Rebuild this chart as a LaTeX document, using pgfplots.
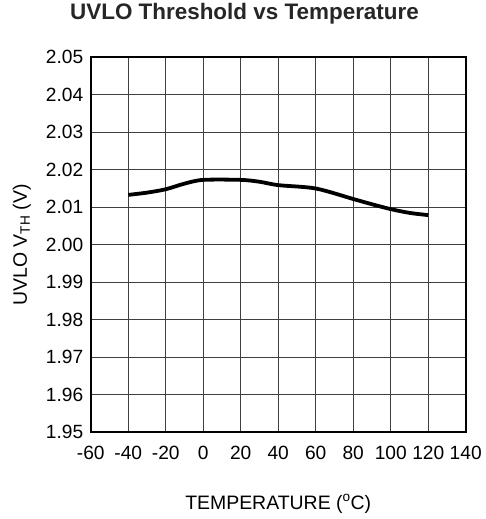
\documentclass[border=0pt]{standalone}
\usepackage{pgfplots}
\pgfplotsset{compat=1.18}
\usepackage{fontspec}
\setmainfont{Liberation Sans}
\begin{document}
\begin{tikzpicture}
\begin{axis}[
  scale only axis,
  width=376pt, height=376pt,
  xmin=-60, xmax=140, ymin=1.95, ymax=2.05,
  xtick={-60,-40,...,140},
  ytick={1.95,1.96,...,2.05},
  yticklabel style={/pgf/number format/fixed,/pgf/number format/fixed zerofill,/pgf/number format/precision=2, xshift=-4pt},
  /pgf/number format/assume math mode=true,
  tick label style={font=\fontsize{19.2}{23}\selectfont},
  xticklabel style={yshift=-10pt},
  major tick length=0pt,
  grid=major,
  grid style={line width=1.2pt, color=black!75},
  axis line style={line width=2pt},
  title={\textbf{UVLO Threshold vs Temperature}},
  title style={font=\fontsize{22.5}{26}\selectfont, text=black!85, at={(axis description cs:0.41,1.100)}, anchor=center},
  xlabel={TEMPERATURE (\textsuperscript{o}C)},
  ylabel={UVLO V\textsubscript{TH} (V)},
  label style={font=\fontsize{19.5}{23}\selectfont},
  xlabel style={at={(axis description cs:0.5,-0.1915)}, anchor=center},
  ylabel style={at={(axis description cs:-0.184,0.5)}, anchor=center, rotate=0},
]
\addplot[black, line width=3.8pt, smooth, tension=0.5] coordinates {
(-40,2.0133) (-30,2.0139) (-20,2.0148) (-10,2.0163) (0,2.0173) (20,2.0173) (30,2.0168) (40,2.0159) (60,2.0150) (80,2.0122) (90,2.0108) (100,2.0095) (110,2.0085) (120,2.0079)
};
\end{axis}
\path ([shift={(-91pt,-87pt)}]current axis.south west) rectangle ([shift={(18pt,56pt)}]current axis.north east);
\end{tikzpicture}
\end{document}
